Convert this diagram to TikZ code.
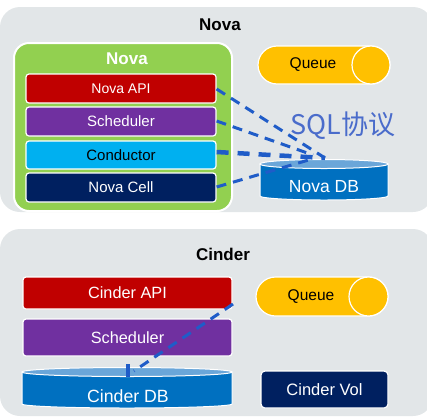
\documentclass[tikz,border=0pt]{standalone}
\usepackage{fontspec}
\setmainfont{Liberation Sans}
\newfontfamily\cjk{Noto Sans CJK SC}
\definecolor{panelgray}{HTML}{E2E6E8}
\definecolor{novagreen}{HTML}{92D050}
\definecolor{apired}{HTML}{C00000}
\definecolor{schpurple}{HTML}{7030A0}
\definecolor{condcyan}{HTML}{00B0F0}
\definecolor{cellnavy}{HTML}{002060}
\definecolor{queueorange}{HTML}{FFC000}
\definecolor{dbblue}{HTML}{0070C0}
\definecolor{dbtop}{HTML}{6AA6D9}
\definecolor{dashblue}{HTML}{1F5CC8}
\definecolor{sqlblue}{HTML}{4A6CCB}
\tikzset{
  panel/.style={fill=panelgray, rounded corners=20pt},
  comp/.style={rectangle, draw=white, line width=1.2pt, rounded corners=3pt, text=white, inner sep=0pt},
  queuebox/.style={rectangle, fill=queueorange, draw=white, line width=1.2pt, rounded corners=19pt, minimum width=132pt, minimum height=38pt, inner sep=0pt},
  queuecirc/.style={circle, fill=queueorange, draw=white, line width=1.2pt, minimum size=38pt, inner sep=0pt},
  lbl/.style={font=\fontsize{15}{17}\selectfont},
  title/.style={font=\bfseries\fontsize{17}{19}\selectfont},
  sqlline/.style={draw=dashblue, line width=3pt, dash pattern=on 10pt off 7pt},
  sqlthick/.style={draw=dashblue, line width=4.5pt, dash pattern=on 12pt off 9pt},
}
\begin{document}
\begin{tikzpicture}[x=1pt,y=-1pt]
\useasboundingbox (0,0) rectangle (427,418);
\clip (0,0) rectangle (427,418);
% panels
\fill[panel] (0,7) rectangle (433,212);
\fill[panel] (0,229) rectangle (433,416);
\node[title] (novatitle) at (220,25) {Nova};
\node[title] (cindertitle) at (223,254) {Cinder};
% green nova box
\node[rectangle, fill=novagreen, draw=white, line width=2pt, rounded corners=15pt, minimum width=218pt, minimum height=168pt, inner sep=0pt] (novabox) at (123,127) {};
\node[title, text=white] (novaboxtitle) at (127,59) {Nova};
\node[comp, fill=apired, minimum width=190pt, minimum height=29pt, font=\fontsize{14}{16}\selectfont] (novaapi) at (121,88.5) {Nova API};
\node[comp, fill=schpurple, minimum width=190pt, minimum height=29pt, font=\fontsize{15}{17}\selectfont] (novasch) at (121,121.5) {Scheduler};
\node[comp, fill=condcyan, text=black, minimum width=190pt, minimum height=28pt, font=\fontsize{15}{17}\selectfont] (novacond) at (121,155) {Conductor};
\node[comp, fill=cellnavy, minimum width=190pt, minimum height=29pt, font=\fontsize{15}{17}\selectfont] (novacell) at (121,187.5) {Nova Cell};
% top queue
\node[queuebox] (q1) at (324,65) {};
\node[queuecirc] (q1c) at (371,65) {};
\node[lbl, font=\fontsize{15.5}{17}\selectfont] (q1t) at (313,65) {Queue};
% Nova DB cylinder
\fill[dbblue, draw=white, line width=1pt] (260,164) -- (260,196) arc[start angle=180, end angle=0, x radius=64, y radius=4] -- (388,164) -- cycle;
\fill[dbtop, draw=white, line width=1pt] (324,164) ellipse[x radius=64, y radius=4.5];
\node[text=white, font=\fontsize{17.5}{19}\selectfont] (novadb) at (324,187) {Nova DB};
% SQL label
\node[text=sqlblue, font=\cjk\fontsize{27}{30}\selectfont] (sql) at (343,126) {SQL协议};
% connectors to Nova DB
\coordinate (dbA) at (325,158);
\coordinate (dbB) at (313,155);
\coordinate (dbC) at (325,158);
\coordinate (dbD) at (312,159);
\draw[sqlline] ([yshift=-0.5pt]novaapi.east) -- (dbA);
\draw[sqlline] ([yshift=0.5pt]novasch.east) -- (dbB);
\draw[sqlthick] ([yshift=3pt]novacond.east) -- (dbC);
\draw[sqlline] ([yshift=0.5pt]novacell.east) -- (dbD);
% Cinder components
\node[comp, fill=apired, minimum width=209pt, minimum height=32pt, font=\fontsize{16.3}{18}\selectfont] (cinderapi) at (127.5,293) {Cinder API};
\node[comp, fill=schpurple, minimum width=209pt, minimum height=37pt, font=\fontsize{16.3}{18}\selectfont] (cindersch) at (127.5,337.5) {Scheduler};
% bottom queue
\node[queuebox, minimum height=39pt, rounded corners=19.5pt] (q2) at (322,296.5) {};
\node[queuecirc, minimum size=39pt] (q2c) at (368.5,296.5) {};
\node[lbl, font=\fontsize{15.5}{17}\selectfont] (q2t) at (311,296.5) {Queue};
% Cinder DB cylinder
\fill[dbblue, draw=white, line width=1pt] (22,372) -- (22,404) arc[start angle=180, end angle=0, x radius=105, y radius=4] -- (232,372) -- cycle;
\fill[dbtop, draw=white, line width=1pt] (127,372) ellipse[x radius=105, y radius=4.5];
\node[text=white, font=\fontsize{17.7}{19}\selectfont] (cinderdb) at (128,396) {Cinder DB};
% Cinder Vol
\node[comp, fill=cellnavy, minimum width=127pt, minimum height=37pt, rounded corners=4pt, font=\fontsize{16.5}{18}\selectfont] (cindervol) at (324.5,389.5) {Cinder Vol};
% connector in Cinder
\coordinate (capiend) at (233,304);
\coordinate (cdbA) at (134,371);
\coordinate (cdbV1) at (128,364);
\coordinate (cdbV2) at (128,376.5);
\draw[sqlline] (capiend) -- (cdbA);
\draw[draw=dashblue, line width=4pt] (cdbV1) -- (cdbV2);
\end{tikzpicture}
\end{document}
